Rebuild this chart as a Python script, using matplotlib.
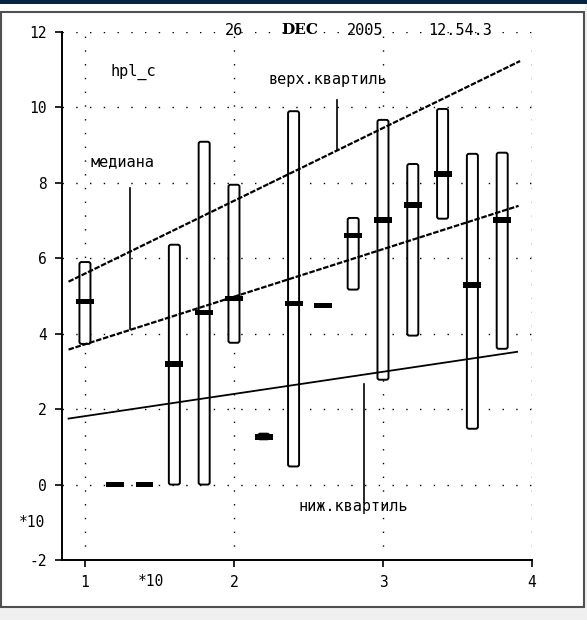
import matplotlib
matplotlib.use('Agg')
import matplotlib.pyplot as plt
from matplotlib.patches import FancyBboxPatch, Rectangle

plt.rcParams['font.family'] = ['DejaVu Sans Mono']
plt.rcParams['lines.scale_dashes'] = False
plt.rcParams['axes.unicode_minus'] = False

# x positions (*10) and range / median values (*10)
x = [1.0, 1.2, 1.4, 1.6, 1.8, 2.0, 2.2, 2.4, 2.6, 2.8, 3.0, 3.2, 3.4, 3.6, 3.8]
lo = [3.73, 0.0, 0.0, 0.0, 0.0, 3.76, 1.2, 0.48, 4.75, 5.17, 2.78, 3.95, 7.05, 1.48, 3.6]
hi = [5.9, 0.0, 0.0, 6.36, 9.09, 7.95, 1.35, 9.9, 4.75, 7.07, 9.67, 8.5, 9.96, 8.77, 8.8]
med = [4.85, 0.0, 0.0, 3.2, 4.56, 4.93, 1.27, 4.8, 4.75, 6.6, 7.02, 7.42, 8.24, 5.3, 7.02]

# trend lines (end points)
upper_x, upper_y = [0.89, 3.92], [5.38, 11.23]
median_x, median_y = [0.89, 3.91], [3.58, 7.39]
lower_x, lower_y = [0.89, 3.90], [1.75, 3.52]

xticks = [1, 2, 3, 4]
yticks = [-2, 0, 2, 4, 6, 8, 10, 12]

fig = plt.figure(figsize=(5.87, 6.20), dpi=100)
fig.patch.set_facecolor('#f0f0f0')
W, H = 587.0, 620.0
# white panel with grey border and navy strip at top (behind the axes)
fig.patches.append(Rectangle((0, 1 - 607 / H), 585 / W, 604 / H, transform=fig.transFigure,
                             fc='white', ec='none', zorder=-3))
fig.patches.append(Rectangle((1 / W, 1 - 607 / H), 583 / W, 595 / H, transform=fig.transFigure,
                             fc='none', ec='#505050', lw=1.5, zorder=-2))
fig.patches.append(Rectangle((0, 1 - 4 / H), 1, 4 / H, transform=fig.transFigure,
                             fc='#0c2340', ec='none', zorder=-2))

ax = fig.add_axes([62 / W, 1 - 560 / H, 470 / W, 528 / H])
ax.set_facecolor('none')
ax.set_xlim(0.846, 4.0)
ax.set_ylim(-2, 12)

ax.spines['top'].set_visible(False)
ax.spines['right'].set_visible(False)
ax.spines['left'].set_linewidth(1.4)
ax.spines['bottom'].set_linewidth(1.4)
ax.set_xticks(xticks)
ax.set_yticks(yticks)
ax.tick_params(axis='both', direction='out', length=5, width=1.2, labelsize=10.5, pad=6)
ax.grid(True, color='black', linewidth=1.0, linestyle=(0, (1.0, 8.9)))
ax.set_axisbelow(True)

# range bars and median marks
bw = 0.074
for xi, a, b, m in zip(x, lo, hi, med):
    if b > a:
        ax.add_patch(FancyBboxPatch((xi - bw / 2, a), bw, b - a,
                                    boxstyle='round,pad=0,rounding_size=0.014',
                                    mutation_aspect=3.95, fc='white', ec='black', lw=1.4, zorder=3))
ax.bar(x, 0.15, width=0.12, bottom=[m - 0.075 for m in med], color='black', zorder=4)

# trend lines
ax.plot(upper_x, upper_y, color='black', lw=1.6, linestyle=(0, (4, 1.2)), zorder=5)
ax.plot(median_x, median_y, color='black', lw=1.6, linestyle=(0, (4, 1.2)), zorder=5)
ax.plot(lower_x, lower_y, color='black', lw=1.3, zorder=5)

# labels and leader lines
fs = 11
ax.text(1.17, 10.94, 'hpl_c', fontsize=fs, va='center', ha='left')
ax.text(1.04, 8.56, 'медиана', fontsize=fs, va='center', ha='left')
ax.plot([1.30, 1.30], [7.87, 4.12], color='black', lw=1.2)
ax.text(2.23, 10.75, 'верх.квартиль', fontsize=fs, va='center', ha='left')
ax.plot([2.69, 2.69], [10.2, 8.87], color='black', lw=1.2)
ax.text(2.43, -0.58, 'ниж.квартиль', fontsize=fs, va='center', ha='left')
ax.plot([2.87, 2.87], [2.67, -0.45], color='black', lw=1.2)

# date / time stamp
ax.text(1.94, 12.05, '26', fontsize=fs, va='center', ha='left')
ax.text(2.32, 12.05, 'DEC', fontsize=fs, va='center', ha='left',
        family='DejaVu Serif', fontweight='bold')
ax.text(2.76, 12.05, '2005', fontsize=fs, va='center', ha='left')
ax.text(3.30, 12.05, '12.54.3', fontsize=fs, va='center', ha='left')

# scale factors
ax.annotate('*10', xy=(0, -1), xycoords=('axes fraction', 'data'), xytext=(-12, 0),
            textcoords='offset points', ha='right', va='center', fontsize=10.5)
ax.annotate('*10', xy=(1.44, 0), xycoords=('data', 'axes fraction'), xytext=(0, -10),
            textcoords='offset points', ha='center', va='top', fontsize=10.5)

fig.savefig('out.png', dpi=100)
